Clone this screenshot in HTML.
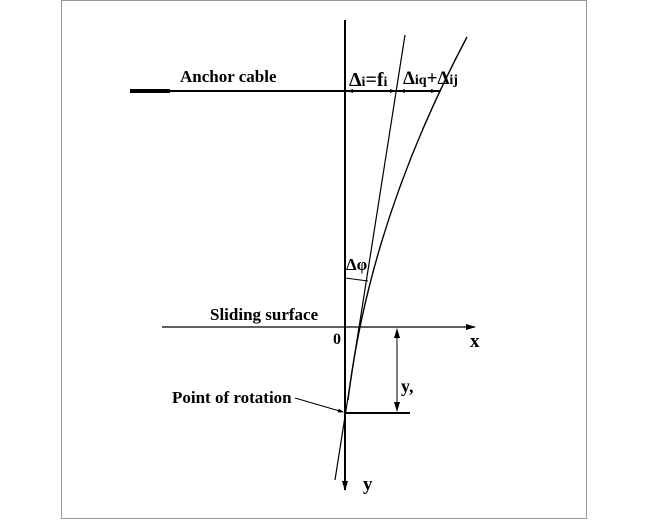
<!DOCTYPE html>
<html><head><meta charset="utf-8"><style>
body{margin:0;background:#fff}
svg{display:block}
text{font-family:"Liberation Serif",serif;font-weight:bold;fill:#000}
</style></head><body>
<svg width="649" height="520" viewBox="0 0 649 520">
<defs><marker id="a" markerWidth="10" markerHeight="6" refX="9" refY="3" orient="auto" markerUnits="userSpaceOnUse"><path d="M0,0 L10,3 L0,6 z" fill="#000"/></marker>
<marker id="s" markerWidth="6" markerHeight="4" refX="5" refY="2" orient="auto" markerUnits="userSpaceOnUse"><path d="M0,0 L6,2 L0,4 z" fill="#000"/></marker></defs>
<rect x="61.5" y="0.5" width="525" height="518" fill="none" stroke="#999" stroke-width="1"/>
<line x1="130" y1="91" x2="170" y2="91" stroke="#000" stroke-width="4"/>
<line x1="170" y1="91" x2="440" y2="91" stroke="#000" stroke-width="2"/>
<line x1="360" y1="91" x2="348" y2="91" stroke="#000" marker-end="url(#s)"/>
<line x1="385" y1="91" x2="395" y2="91" stroke="#000" marker-end="url(#s)"/>
<line x1="412" y1="91" x2="400" y2="91" stroke="#000" marker-end="url(#s)"/>
<line x1="425" y1="91" x2="436" y2="91" stroke="#000" marker-end="url(#s)"/>
<line x1="345" y1="20" x2="345" y2="490" stroke="#000" stroke-width="2" marker-end="url(#a)"/>
<line x1="162" y1="327" x2="475" y2="327" stroke="#000" stroke-width="1.3" marker-end="url(#a)"/>
<line x1="405" y1="35" x2="335" y2="480" stroke="#000" stroke-width="1.2"/>
<path d="M348 400 Q370 220 467 37" fill="none" stroke="#000" stroke-width="1.4"/>
<line x1="345" y1="278" x2="368" y2="281" stroke="#000" stroke-width="1"/>
<line x1="345" y1="413" x2="410" y2="413" stroke="#000" stroke-width="2"/>
<line x1="397" y1="370" x2="397" y2="329" stroke="#000" marker-end="url(#a)"/>
<line x1="397" y1="370" x2="397" y2="411" stroke="#000" marker-end="url(#a)"/>
<line x1="295" y1="398" x2="343" y2="412" stroke="#000" marker-end="url(#s)"/>
<text x="180" y="82" font-size="17">Anchor cable</text>
<text x="349" y="86" font-size="20">Δ<tspan font-size="14">i</tspan>=f<tspan font-size="14">i</tspan></text>
<text x="403" y="84" font-size="19">Δ<tspan font-size="14">iq</tspan>+Δ<tspan font-size="14">ij</tspan></text>
<text x="346" y="270" font-size="17">Δφ</text>
<text x="210" y="320" font-size="17">Sliding surface</text>
<text x="333" y="344" font-size="16">0</text>
<text x="470" y="347" font-size="19">x</text>
<text x="401" y="392" font-size="18">y,</text>
<text x="172" y="403" font-size="17">Point of rotation</text>
<text x="363" y="490" font-size="19">y</text>
</svg>
</body></html>
